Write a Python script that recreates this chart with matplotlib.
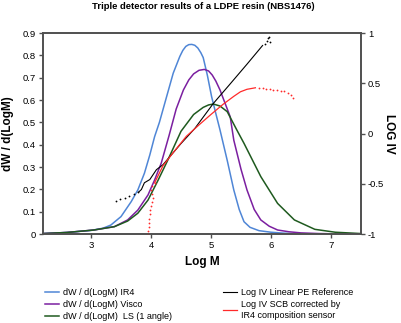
import matplotlib
matplotlib.use("Agg")
import matplotlib.pyplot as plt

plt.rcParams['font.family'] = ['Liberation Sans', 'DejaVu Sans']

# dW/d(LogM) IR4
ir4_x = [2.2, 2.6, 3.0, 3.2, 3.33, 3.5, 3.67, 3.78, 3.89, 3.98, 4.06, 4.14, 4.26, 4.37, 4.48,
         4.53, 4.58, 4.63, 4.68, 4.73, 4.78, 4.83, 4.87, 4.94, 5.01, 5.08, 5.15, 5.27, 5.38,
         5.47, 5.55, 5.65, 5.8, 6.0, 6.2, 6.35]
ir4_y = [0.002, 0.007, 0.016, 0.026, 0.04, 0.078, 0.145, 0.197, 0.272, 0.354, 0.436, 0.5, 0.615,
         0.72, 0.795, 0.822, 0.84, 0.848, 0.849, 0.845, 0.833, 0.812, 0.79, 0.71, 0.615, 0.54,
         0.466, 0.33, 0.197, 0.11, 0.055, 0.03, 0.015, 0.008, 0.004, 0.002]

# dW/d(LogM) Visco
vis_x = [2.2, 2.6, 3.05, 3.39, 3.61, 3.78, 3.95, 4.06, 4.17, 4.3, 4.42, 4.54, 4.63, 4.71, 4.8,
         4.89, 4.96, 5.02, 5.08, 5.15, 5.32, 5.38, 5.5, 5.6, 5.72, 5.83, 5.97, 6.11, 6.3, 6.5,
         6.8, 7.0]
vis_y = [0.002, 0.007, 0.018, 0.033, 0.063, 0.107, 0.175, 0.242, 0.317, 0.44, 0.56, 0.645, 0.69,
         0.717, 0.733, 0.737, 0.73, 0.712, 0.685, 0.645, 0.525, 0.42, 0.29, 0.197, 0.11, 0.063,
         0.035, 0.018, 0.01, 0.005, 0.002, 0.001]

# dW/d(LogM) LS (1 angle)
ls_x = [2.2, 2.6, 3.05, 3.39, 3.61, 3.78, 3.95, 4.12, 4.28, 4.5, 4.71, 4.87, 4.96, 5.04, 5.15,
        5.27, 5.43, 5.55, 5.83, 6.11, 6.39, 6.73, 7.07, 7.5]
ls_y = [0.002, 0.007, 0.018, 0.033, 0.058, 0.093, 0.152, 0.242, 0.331, 0.46, 0.535, 0.567, 0.578,
        0.582, 0.573, 0.548, 0.466, 0.406, 0.257, 0.137, 0.063, 0.021, 0.008, 0.002]

# Log IV Linear PE Reference
ref_dot_x = [3.42, 3.49, 3.56, 3.64, 3.72, 3.79]
ref_dot_v = [-0.67, -0.655, -0.64, -0.62, -0.597, -0.585]
ref_x = [3.79, 3.84, 3.89, 3.98, 4.09, 4.2, 4.5, 4.73, 5.04, 5.3, 5.6, 5.86]
ref_v = [-0.585, -0.557, -0.49, -0.458, -0.36, -0.31, -0.1, 0.05, 0.30, 0.48, 0.69, 0.876]
ref_end_x = [5.9, 5.93, 5.95, 5.97, 5.98]
ref_end_v = [0.89, 0.92, 0.95, 0.96, 0.91]

# Log IV SCB corrected by IR4 composition sensor
scb_lo_x = [3.95, 3.955, 3.96, 3.965, 3.97, 3.98, 3.99, 4.0, 4.02, 4.03, 4.02, 4.0, 4.02, 4.06]
scb_lo_v = [-1.0, -0.97, -0.93, -0.89, -0.85, -0.8, -0.76, -0.72, -0.68, -0.64, -0.6, -0.56,
            -0.52, -0.49]
scb_x = [4.06, 4.2, 4.37, 4.59, 4.82, 5.0, 5.2, 5.38, 5.49, 5.6, 5.74]
scb_v = [-0.49, -0.32, -0.19, -0.027, 0.096, 0.19, 0.29, 0.37, 0.415, 0.44, 0.455]
scb_hi_x = [5.8, 5.86, 5.92, 5.98, 6.04, 6.1, 6.16, 6.22, 6.28, 6.33, 6.37]
scb_hi_v = [0.455, 0.45, 0.44, 0.438, 0.435, 0.43, 0.425, 0.42, 0.405, 0.385, 0.355]

left_ticks = [0, 0.1, 0.2, 0.3, 0.4, 0.5, 0.6, 0.7, 0.8, 0.9]
left_labels = ['0', '0.1', '0.2', '0.3', '0.4', '0.5', '0.6', '0.7', '0.8', '0.9']
right_ticks = [-1, -0.5, 0, 0.5, 1]
right_labels = ['-1', '-0.5', '0', '0.5', '1']
x_ticks = [3, 4, 5, 6, 7]

C_BLUE = '#4f86d6'
C_PURPLE = '#7b1fa0'
C_GREEN = '#1f5a1f'
C_BLACK = '#000000'
C_RED = '#ff2a2a'
SPINE = '#505050'

fig = plt.figure(figsize=(4.02, 3.23), dpi=100)
ax = fig.add_axes([0.107, 0.2755, 0.791, 0.6223])
ax2 = ax.twinx()

l1, = ax.plot(ir4_x, ir4_y, color=C_BLUE, lw=1.1, label='dW / d(LogM) IR4')
l2, = ax.plot(vis_x, vis_y, color=C_PURPLE, lw=1.1, label='dW / d(LogM) Visco')
l3, = ax.plot(ls_x, ls_y, color=C_GREEN, lw=1.1, label='dW / d(LogM)  LS (1 angle)')

l4, = ax2.plot(ref_x, ref_v, color=C_BLACK, lw=0.8, label='Log IV Linear PE Reference')
ax2.plot(ref_dot_x, ref_dot_v, ls='none', marker='o', ms=1.3, mew=0, color=C_BLACK)
ax2.plot(ref_end_x, ref_end_v, ls='none', marker='o', ms=1.3, mew=0, color=C_BLACK)
l5, = ax2.plot(scb_x, scb_v, color=C_RED, lw=0.9,
               label='Log IV SCB corrected by\nIR4 composition sensor')
ax2.plot(scb_lo_x, scb_lo_v, ls='none', marker='o', ms=1.3, mew=0, color=C_RED)
ax2.plot(scb_hi_x, scb_hi_v, ls='none', marker='o', ms=1.3, mew=0, color=C_RED)

ax.set_xlim(2.2, 7.5)
ax.set_ylim(0, 0.9)
ax2.set_ylim(-1, 1)
ax.set_xticks(x_ticks)
ax.set_yticks(left_ticks)
ax.set_yticklabels(left_labels)
ax2.set_yticks(right_ticks)
ax2.set_yticklabels(right_labels)

for a in (ax, ax2):
    for s in a.spines.values():
        s.set_color(SPINE)
        s.set_linewidth(1.2)
    a.tick_params(direction='out', length=3, width=1, color=SPINE, labelsize=6.8, pad=2)

ax.set_xlabel('Log M', fontsize=8.5, fontweight='bold', labelpad=4)
ax.set_ylabel('dW / d(LogM)', fontsize=8.5, fontweight='bold', labelpad=6)
ax2.set_ylabel('LOG IV', fontsize=8.5, fontweight='bold', rotation=-90, labelpad=8)

fig.text(0.505, 0.994, 'Triple detector results of a LDPE resin (NBS1476)',
         ha='center', va='top', fontsize=6.8, fontweight='bold')

leg_kw = dict(frameon=False, fontsize=6.5, handlelength=1.5, handletextpad=0.45,
              labelspacing=0.32, borderpad=0, borderaxespad=0)
fig.legend(handles=[l1, l2, l3], loc='upper left', bbox_to_anchor=(0.112, 0.107),
           bbox_transform=fig.transFigure, **leg_kw)
fig.legend(handles=[l4, l5], loc='upper left', bbox_to_anchor=(0.555, 0.107),
           bbox_transform=fig.transFigure, **leg_kw)

fig.savefig('out.png', dpi=100)
